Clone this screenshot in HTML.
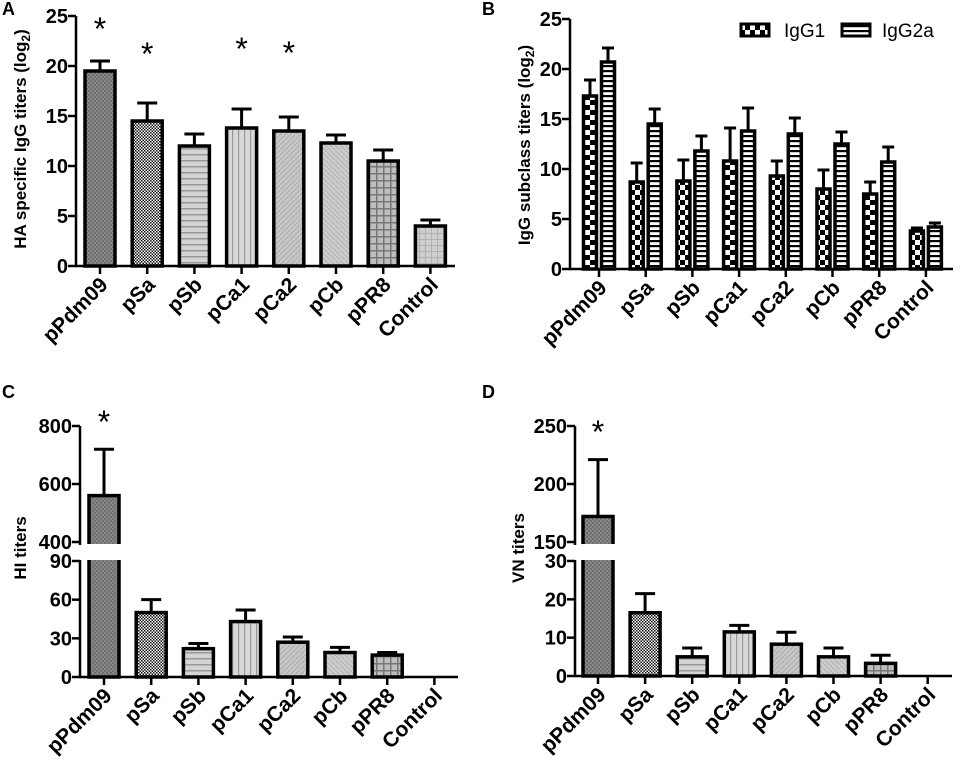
<!DOCTYPE html>
<html><head><meta charset="utf-8">
<style>
html,body{margin:0;padding:0;background:#fff;width:965px;height:762px;overflow:hidden}
svg{display:block;font-family:"Liberation Sans",Arial,sans-serif}
</style></head><body>
<svg id="fig" width="965" height="762" viewBox="0 0 965 762" xmlns="http://www.w3.org/2000/svg">
<defs>
<pattern id="p0" width="4" height="4" patternUnits="userSpaceOnUse"><rect width="4" height="4" fill="#6f6f6f"/><rect width="2" height="2" fill="#888"/><rect x="2" y="2" width="2" height="2" fill="#888"/></pattern>
<pattern id="p1" width="3" height="3" patternUnits="userSpaceOnUse"><rect width="3" height="3" fill="#fff"/><rect width="1.5" height="1.5" fill="#111"/><rect x="1.5" y="1.5" width="1.5" height="1.5" fill="#111"/></pattern>
<pattern id="p2" width="8" height="6" patternUnits="userSpaceOnUse"><rect width="8" height="6" fill="#d4d4d4"/><rect y="4" width="8" height="1.5" fill="#999"/></pattern>
<pattern id="p3" width="6" height="8" patternUnits="userSpaceOnUse"><rect width="6" height="8" fill="#d8d8d8"/><rect x="4" width="1.2" height="8" fill="#999"/></pattern>
<pattern id="p4" width="5" height="5" patternUnits="userSpaceOnUse"><rect width="5" height="5" fill="#c8c8c8"/><path d="M0 5L5 0" stroke="#aaa" stroke-width="1"/></pattern>
<pattern id="p5" width="5" height="5" patternUnits="userSpaceOnUse"><rect width="5" height="5" fill="#cdcdcd"/><path d="M0 0L5 5" stroke="#b0b0b0" stroke-width="1"/></pattern>
<pattern id="p6" width="7" height="7" patternUnits="userSpaceOnUse"><rect width="7" height="7" fill="#bdbdbd"/><rect x="5" width="1.5" height="7" fill="#777"/><rect y="5" width="7" height="1.5" fill="#777"/></pattern>
<pattern id="p7" width="6" height="6" patternUnits="userSpaceOnUse"><rect width="6" height="6" fill="#cfcfcf"/><rect x="5" width="1" height="6" fill="#b0b0b0"/><rect y="5" width="6" height="1" fill="#b0b0b0"/></pattern>
<pattern id="g1" width="10" height="10" patternUnits="userSpaceOnUse"><rect width="10" height="10" fill="#fff"/><rect width="5" height="5" fill="#000"/><rect x="5" y="5" width="5" height="5" fill="#000"/></pattern>
<pattern id="g2" width="6" height="5" patternUnits="userSpaceOnUse"><rect width="6" height="5" fill="#fff"/><rect width="6" height="2.2" fill="#000"/></pattern>
</defs>
</svg>
<script>
const categories = ["pPdm09","pSa","pSb","pCa1","pCa2","pCb","pPR8","Control"];
const haMean = [19.5,14.5,12.0,13.8,13.5,12.3,10.5,4.0];
const haErr  = [20.5,16.3,13.2,15.7,14.9,13.1,11.6,4.6];
const haStar = [true,true,false,true,true,false,false,false];
const haTicks = [0,5,10,15,20,25];
const igg1Mean = [17.3,8.7,8.8,10.8,9.3,8.0,7.5,3.8];
const igg1Err  = [18.9,10.6,10.9,14.1,10.8,9.9,8.7,4.1];
const igg2aMean = [20.7,14.5,11.8,13.8,13.5,12.5,10.7,4.2];
const igg2aErr  = [22.1,16.0,13.3,16.1,15.1,13.7,12.2,4.6];
const subTicks = [0,5,10,15,20,25];
const hiMean = [560,50,22,43,27,19,17,0];
const hiErr  = [720,60,26,52,31,23,19,0];
const hiLowTicks = [0,30,60,90];
const hiHighTicks = [400,600,800];
const vnMean = [172,16.5,5,11.5,8.3,5,3.3,0];
const vnErr  = [221,21.5,7.3,13.2,11.4,7.3,5.4,0];
const vnLowTicks = [0,10,20,30];
const vnHighTicks = [150,200,250];

const svg = document.getElementById('fig');
const NS = 'http://www.w3.org/2000/svg';
function mk(tag, attrs, parent){const e=document.createElementNS(NS,tag);for(const k in attrs)e.setAttribute(k,attrs[k]);(parent||svg).appendChild(e);return e;}
function txt(x,y,s,size,weight,anchor,parent){const t=mk('text',{x:x,y:y,'font-size':size,'font-weight':weight,'text-anchor':anchor||'middle'},parent);t.textContent=s;return t;}
const fills=['p0','p1','p2','p3','p4','p5','p6','p7'];

function panel(cfg){
  const g=mk('g',{});
  
  
  const xAt=i=>cfg.x0+i*cfg.step;
  const L=txt(cfg.letterX,cfg.letterY,cfg.letter,18,'bold','start',g);
  
  
  const yt=mk('text',{transform:`translate(${cfg.titleX},${cfg.titleY}) rotate(-90)`,'font-size':17,'font-weight':'bold','text-anchor':'middle'},g);
  
  
  if(cfg.sub){yt.appendChild(document.createTextNode(cfg.title+' (log'));const ts=mk('tspan',{'font-size':'12',dy:'4'},yt);ts.textContent='2';const ts2=mk('tspan',{dy:'-4'},yt);ts2.textContent=')';}
  else yt.textContent=cfg.title;
  cfg.series.forEach((s)=>{
    s.mean.forEach((v,i)=>{
      if(v<=0)return;
      const cx=xAt(i)+s.off;
      const top=cfg.y(v), base=cfg.y(0);
      const et=cfg.y(s.err[i]);
      const el=mk('line',{x1:cx,x2:cx,y1:top,y2:et,stroke:'#000','stroke-width':3},g);
      
      
      mk('line',{x1:cx-s.cap,x2:cx+s.cap,y1:et,y2:et,stroke:'#000','stroke-width':3},g);
      const r=mk('rect',{x:cx-s.w/2,y:top,width:s.w,height:base-top,fill:'url(#'+(s.fill||fills[i])+')',stroke:'#000','stroke-width':3.5},g);
      
      
    });
  });
  if(cfg.brk){
    const b=mk('rect',{x:cfg.axX-8,y:cfg.brk[0],width:cfg.step*1.6,height:cfg.brk[1]-cfg.brk[0],fill:'#fff'},g);
    
    
  }
  const segs=cfg.brk?[[cfg.yTop,cfg.brk[0]],[cfg.brk[1],cfg.y(0)]]:[[cfg.yTop,cfg.y(0)]];
  segs.forEach(sg=>{const a=mk('line',{x1:cfg.axX,x2:cfg.axX,y1:sg[0],y2:sg[1]+1,stroke:'#000','stroke-width':2.5},g);
    });
  const xa=mk('line',{x1:cfg.axX-1,x2:cfg.axEnd,y1:cfg.y(0),y2:cfg.y(0),stroke:'#000','stroke-width':2.5},g);
  
  
  cfg.ticks.forEach(t=>{const yy=cfg.y(t);
    mk('line',{x1:cfg.axX-8,x2:cfg.axX,y1:yy,y2:yy,stroke:'#000','stroke-width':2.5},g);
    const l=txt(cfg.axX-8,yy+7,String(t),20,'bold','end',g);
    
    });
  categories.forEach((c,i)=>{const cx=xAt(i), y0=cfg.y(0);
    mk('line',{x1:cx,x2:cx,y1:y0,y2:y0+8,stroke:'#000','stroke-width':2.5},g);
    const t=mk('text',{transform:`translate(${cx+9},${y0+20}) rotate(-45)`,'font-size':21,'font-weight':'bold','text-anchor':'end'},g);
    t.textContent=c;
    
    });
  (cfg.stars||[]).forEach((st,i)=>{if(!st)return;
    const s=txt(xAt(i),cfg.starY[i]+18,'*',32,'normal','middle',g);
    
    });
  return g;
}

panel({name:'panel-a',letter:'A',letterX:2,letterY:15,title:'HA specific IgG titers',sub:true,titleX:26,titleY:139,
  axX:76,axEnd:455,x0:100,step:47.2,yTop:16,y:v=>266-v*10,ticks:haTicks,
  series:[{mean:haMean,err:haErr,off:0,w:30,cap:10}],stars:haStar,starY:[22,47,0,42,46,0,0,0]});
panel({name:'panel-b',letter:'B',letterX:482,letterY:15,title:'IgG subclass titers',sub:true,titleX:530,titleY:145,
  axX:570,axEnd:953,x0:599,step:46.7,yTop:19,y:v=>269-v*10,ticks:subTicks,
  series:[{mean:igg1Mean,err:igg1Err,off:-9,w:13,cap:6,fill:'g1',label:'igg1'},{mean:igg2aMean,err:igg2aErr,off:9,w:13,cap:6,fill:'g2',label:'igg2a'}]});
panel({name:'panel-c',letter:'C',letterX:2,letterY:398,title:'HI titers',titleX:26,titleY:548,
  axX:80,axEnd:458,x0:104,step:47.2,yTop:426,brk:[544,560],
  y:v=>v<=90?677-v*(116/90):542-(v-400)*(116/400),ticks:hiLowTicks.concat(hiHighTicks),
  series:[{mean:hiMean,err:hiErr,off:0,w:30,cap:10}],stars:[true],starY:[415]});
panel({name:'panel-d',letter:'D',letterX:482,letterY:398,title:'VN titers',titleX:524,titleY:548,
  axX:575,axEnd:952,x0:598,step:47.1,yTop:426,brk:[544,560],
  y:v=>v<=30?676-v*(115/30):542-(v-150)*(116/100),ticks:vnLowTicks.concat(vnHighTicks),
  series:[{mean:vnMean,err:vnErr,off:0,w:30,cap:10}],stars:[true],starY:[425]});

const lg=mk('g',{});


const l1=mk('rect',{x:741,y:24,width:28,height:12,fill:'url(#g1)',stroke:'#000','stroke-width':3},lg);


const t1=txt(784,37,'IgG1',19,'normal','start',lg);


const l2=mk('rect',{x:842,y:24,width:28,height:12,fill:'url(#g2)',stroke:'#000','stroke-width':3},lg);


const t2=txt(882,37,'IgG2a',19,'normal','start',lg);


</script>
</body></html>
